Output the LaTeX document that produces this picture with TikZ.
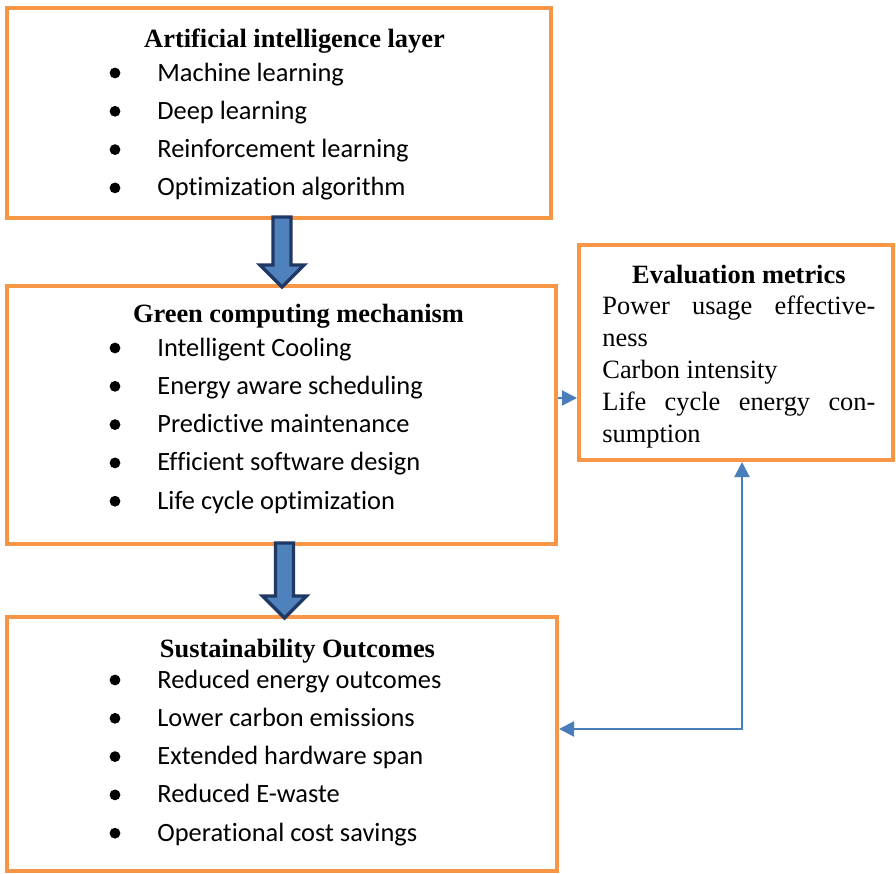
\documentclass[tikz,border=0pt]{standalone}
\usepackage{fontspec}
\setmainfont{Liberation Serif}
\newfontfamily\itemfont[Ligatures=NoCommon]{Carlito}
\usepackage{tikz}
\usetikzlibrary{arrows.meta, positioning, calc}
\definecolor{boxorange}{RGB}{247,150,70}
\definecolor{arrowfill}{RGB}{79,129,189}
\definecolor{arrowedge}{RGB}{31,56,100}
\definecolor{linkblue}{RGB}{74,126,187}
\newcommand{\bodysize}{\fontsize{13.2pt}{15.9pt}\selectfont}

\begin{document}
\begin{tikzpicture}[
  x=0.5pt, y=-0.5pt,
  font=\bodysize,
  >={Triangle[length=7.5pt, width=7.5pt]},
  box/.style={draw=boxorange, line width=2pt, inner sep=0pt, outer sep=1pt},
  ttl/.style={anchor=base, inner sep=0pt, font=\bodysize\bfseries},
  itm/.style={anchor=base west, inner sep=0pt, font=\bodysize\itemfont},
  bul/.style={circle, fill=black, inner sep=0pt, minimum size=5.4pt},
  blk/.style={draw=arrowedge, fill=arrowfill, line width=1.6pt},
  a/.style={draw=linkblue, line width=1pt}
]
\useasboundingbox (0,0) rectangle (896,874);

% ---- boxes ----
\node[box, minimum width=272pt, minimum height=105pt] (ai) at (279,113) {};
\node[box, minimum width=274.5pt, minimum height=129pt] (gc) at (281.5,415) {};
\node[box, minimum width=275pt, minimum height=127pt] (so) at (282,744) {};
\node[box, minimum width=157pt, minimum height=107.5pt] (ev) at (736,352.5) {};

% ---- titles ----
\node[ttl] (ai-t) at (294.5,47) {Artificial intelligence layer};
\node[ttl] (gc-t) at (298.5,322) {Green computing mechanism};
\node[ttl] (so-t) at (297.5,657) {Sustainability Outcomes};

% ---- bullet lists ----
\foreach \t [count=\i] in {Machine learning, Deep learning,
    Reinforcement learning, Optimization algorithm} {
  \node[itm] (ai-\i) at (157,{81+38.3*(\i-1)}) {\t};
  \node[bul] (ai-b\i) at ([shift={(-21pt,4pt)}]ai-\i.base west) {};
}
\foreach \t [count=\i] in {Intelligent Cooling, Energy aware scheduling,
    Predictive maintenance, Efficient software design, Life cycle optimization} {
  \node[itm] (gc-\i) at (157,{356+38.3*(\i-1)}) {\t};
  \node[bul] (gc-b\i) at ([shift={(-21pt,4pt)}]gc-\i.base west) {};
}
\foreach \t [count=\i] in {Reduced energy outcomes, Lower carbon emissions,
    Extended hardware span, Reduced E-waste, Operational cost savings} {
  \node[itm] (so-\i) at (157,{688+38.3*(\i-1)}) {\t};
  \node[bul] (so-b\i) at ([shift={(-21pt,4pt)}]so-\i.base west) {};
}

% ---- evaluation metrics ----
\node[anchor=base west, inner sep=0pt] (ev-txt) at (602,283)
  {\parbox[t]{136.5pt}{\tolerance=10000\hbadness=10000
    {\centering\bfseries Evaluation metrics\par}
    Power usage effective-\linebreak ness\par
    Carbon intensity\par
    Life cycle energy con-\linebreak sumption}};

% ---- block arrows down the column ----
\foreach \from/\to in {ai/gc, gc/so}
  \draw[blk] let \p1=([shift={(1.5pt,1.5pt)}]\from.south),
                 \p2=([yshift=-1.5pt]\to.north) in
    (\x1-4.5pt,\y1) -- (\x1+4.5pt,\y1) -- (\x1+4.5pt,\y2+11pt)
    -- (\x1+11pt,\y2+11pt) -- (\x1,\y2) -- (\x1-11pt,\y2+11pt)
    -- (\x1-4.5pt,\y2+11pt) -- cycle;

% ---- links to the metrics box ----
\draw[a, ->] ([yshift=8.5pt]gc.east) -- ([yshift=8.5pt]gc.east -| ev.west);
\draw[a, <->] ([xshift=3pt]ev.south) |- ([yshift=7.5pt]so.east);

\end{tikzpicture}
\end{document}
